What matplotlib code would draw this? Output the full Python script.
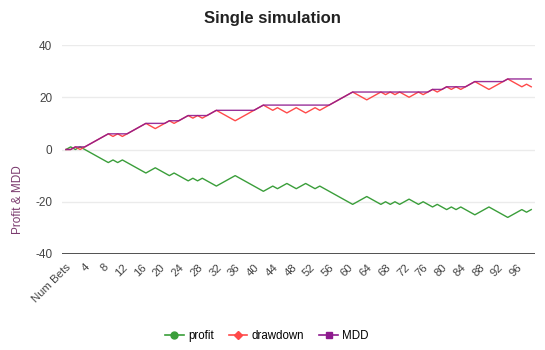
import matplotlib
matplotlib.use("Agg")
import matplotlib.pyplot as plt
from matplotlib.lines import Line2D

plt.rcParams['font.family'] = ['Liberation Sans', 'DejaVu Sans']

x_labels = ["Num Bets"] + [str(i) for i in range(1, 100)]

profit = [0, 1, 0, 1, 0, -1, -2, -3, -4, -5,
          -4, -5, -4, -5, -6, -7, -8, -9, -8, -7,
          -8, -9, -10, -9, -10, -11, -12, -11, -12, -11,
          -12, -13, -14, -13, -12, -11, -10, -11, -12, -13,
          -14, -15, -16, -15, -14, -15, -14, -13, -14, -15,
          -14, -13, -14, -15, -14, -15, -16, -17, -18, -19,
          -20, -21, -20, -19, -18, -19, -20, -21, -20, -21,
          -20, -21, -20, -19, -20, -21, -20, -21, -22, -21,
          -22, -23, -22, -23, -22, -23, -24, -25, -24, -23,
          -22, -23, -24, -25, -26, -25, -24, -23, -24, -23]

drawdown = [0, 0, 1, 0, 1, 2, 3, 4, 5, 6,
            5, 6, 5, 6, 7, 8, 9, 10, 9, 8,
            9, 10, 11, 10, 11, 12, 13, 12, 13, 12,
            13, 14, 15, 14, 13, 12, 11, 12, 13, 14,
            15, 16, 17, 16, 15, 16, 15, 14, 15, 16,
            15, 14, 15, 16, 15, 16, 17, 18, 19, 20,
            21, 22, 21, 20, 19, 20, 21, 22, 21, 22,
            21, 22, 21, 20, 21, 22, 21, 22, 23, 22,
            23, 24, 23, 24, 23, 24, 25, 26, 25, 24,
            23, 24, 25, 26, 27, 26, 25, 24, 25, 24]

mdd = [0, 0, 1, 1, 1, 2, 3, 4, 5, 6,
       6, 6, 6, 6, 7, 8, 9, 10, 10, 10,
       10, 10, 11, 11, 11, 12, 13, 13, 13, 13,
       13, 14, 15, 15, 15, 15, 15, 15, 15, 15,
       15, 16, 17, 17, 17, 17, 17, 17, 17, 17,
       17, 17, 17, 17, 17, 17, 17, 18, 19, 20,
       21, 22, 22, 22, 22, 22, 22, 22, 22, 22,
       22, 22, 22, 22, 22, 22, 22, 22, 23, 23,
       23, 24, 24, 24, 24, 24, 25, 26, 26, 26,
       26, 26, 26, 26, 27, 27, 27, 27, 27, 27]

y_ticks = [-40, -20, 0, 20, 40]

c_profit = '#3a9e3a'
c_dd = '#ff4a4a'
c_mdd = '#8e1a8e'

fig = plt.figure(figsize=(5.45, 3.5), dpi=100)
ax = fig.add_axes([62/545, (350-254)/350, 473/545, 209/350])

xs = list(range(len(x_labels)))
ax.plot(xs, profit, color=c_profit, lw=1.0, zorder=3)
ax.plot(xs, drawdown, color=c_dd, lw=1.0, zorder=3)
ax.plot(xs, mdd, color=c_mdd, lw=1.0, zorder=4, alpha=0.9)

ax.set_xlim(-0.85, 99.8)
ax.set_ylim(-40, 40)
ax.set_yticks(y_ticks)
ax.set_yticklabels([str(v) for v in y_ticks])
for v in [-20, 0, 20, 40]:
    ax.axhline(v, color='#ebebeb', lw=1.0, zorder=1)
ax.axhline(-40, color='#333333', lw=1.2, zorder=2)

tick_pos = list(range(0, 100, 4))
ax.set_xticks(tick_pos)
ax.set_xticklabels([x_labels[i] for i in tick_pos], rotation=45, ha='right',
                   va='top', rotation_mode='anchor', fontsize=8.2, color='#444444')
ax.tick_params(axis='both', length=0)
ax.tick_params(axis='x', pad=6)
ax.tick_params(axis='y', labelsize=8.5, labelcolor='#444444', pad=7)
for s in ax.spines.values():
    s.set_visible(False)

fig.text(0.5, 1 - 18/350, 'Single simulation', ha='center', va='center',
         fontsize=12, fontweight='bold', color='#222222')
fig.text(18/545, 150/350, 'Profit & MDD', rotation=90, ha='center', va='center',
         fontsize=8.5, color='#7a3a6e')

handles = [
    Line2D([0], [0], color=c_profit, lw=1.2, marker='o', markersize=5),
    Line2D([0], [0], color=c_dd, lw=1.2, marker='D', markersize=4),
    Line2D([0], [0], color=c_mdd, lw=1.2, marker='s', markersize=5),
]
fig.legend(handles, ['profit', 'drawdown', 'MDD'], loc='center',
           bbox_to_anchor=(0.49, 1 - 336/350), ncol=3, frameon=False,
           fontsize=8.3, handlelength=1.6, handletextpad=0.4, columnspacing=1.3)

fig.savefig('out.png', dpi=100)
